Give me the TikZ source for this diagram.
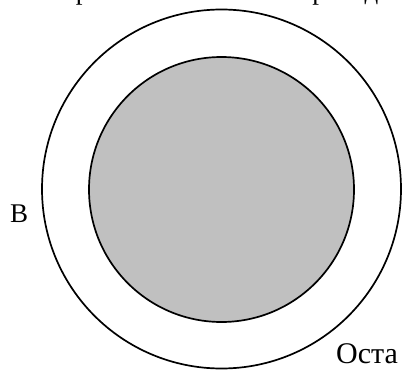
\documentclass[tikz,border=0pt]{standalone}
\usepackage{fontspec}
\setmainfont{Liberation Serif}
\definecolor{fillgray}{RGB}{192,192,192}
\begin{document}
\begin{tikzpicture}[x=1pt,y=-1pt,
  ring/.style={draw=black,line width=1.7pt},
  lbl/.style={font=\fontsize{27}{30}\selectfont,inner sep=0pt}]
\useasboundingbox (0,0) rectangle (403,369);
\clip (0,0) rectangle (403,369);
\node[lbl,anchor=base west] (title) at (30,0) {Напряжённость поля в проводнике};
\draw[ring] (221.5,189) circle[radius=179.5];
\filldraw[ring,fill=fillgray] (221.5,189.5) circle[radius=132.5];
\node[lbl,anchor=base west] (b) at (10,222) {В};
\node[lbl,font=\fontsize{30}{33}\selectfont,anchor=base west] (rest) at (336,363) {Оста};
\end{tikzpicture}
\end{document}
